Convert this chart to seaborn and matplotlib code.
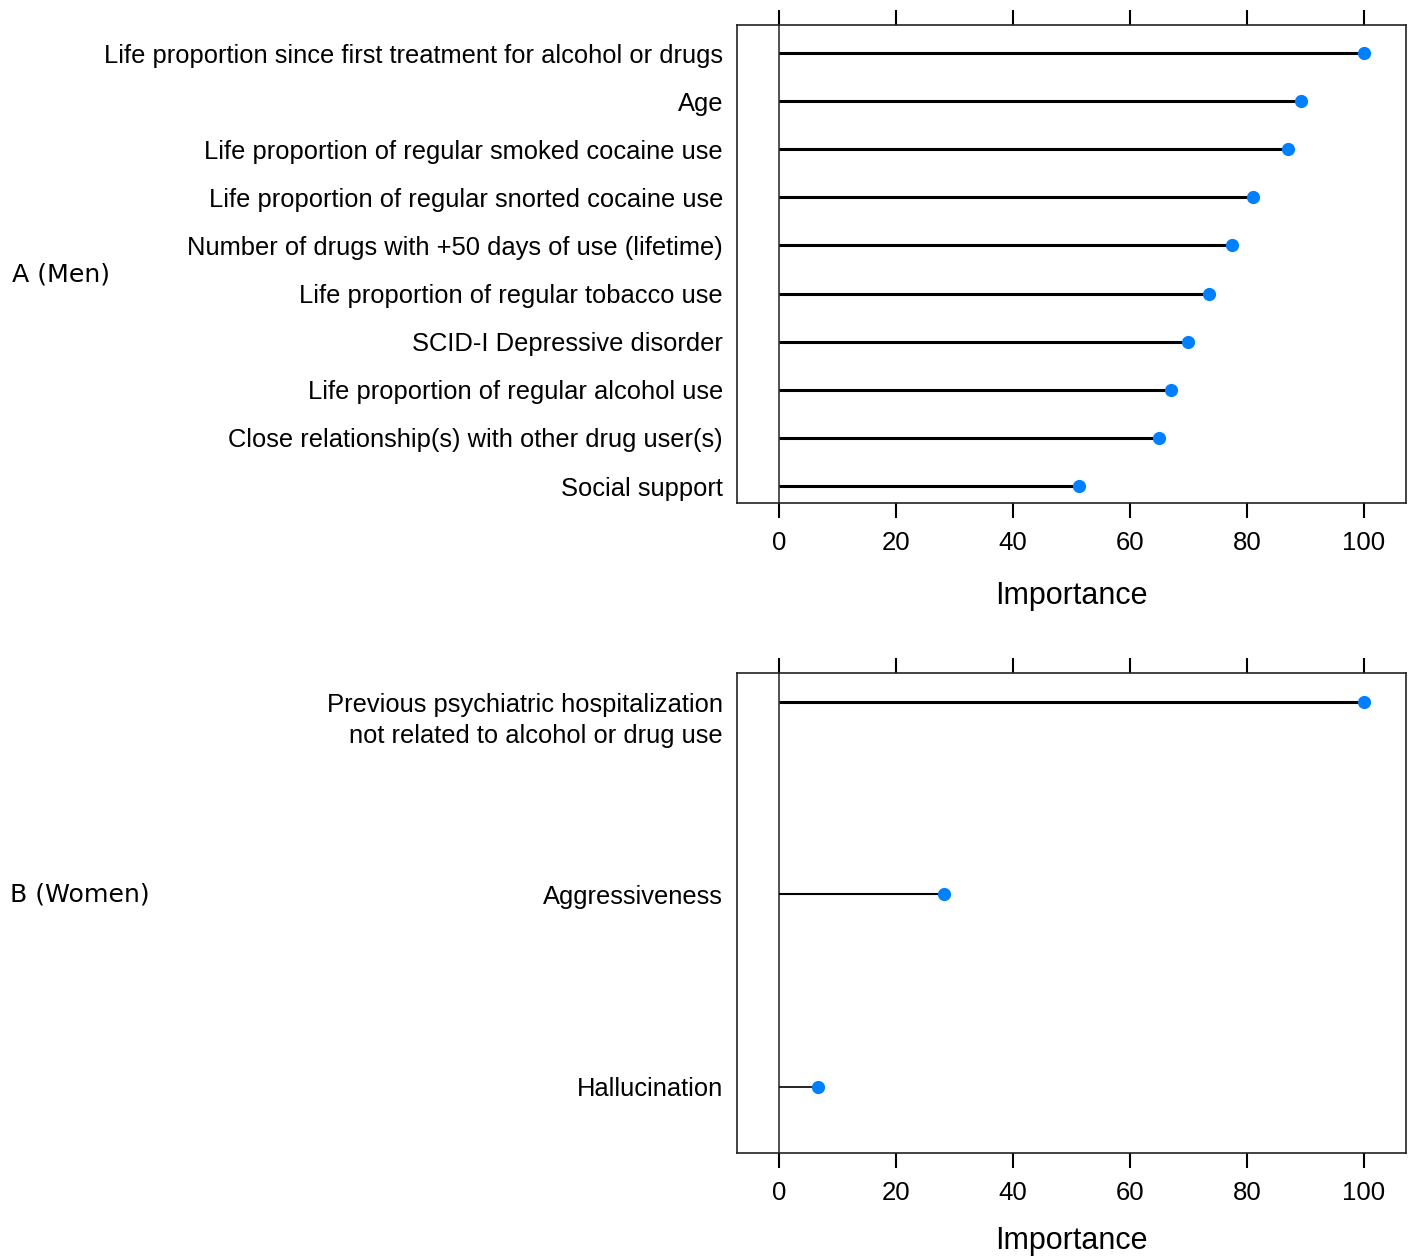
import matplotlib
matplotlib.use("Agg")
import matplotlib.pyplot as plt
import matplotlib.transforms as mtrans
import numpy as np
import pandas as pd
import seaborn as sns

# Panel A (men)
men_vars = [
    "Life proportion since first treatment for alcohol or drugs",
    "Age",
    "Life proportion of regular smoked cocaine use",
    "Life proportion of regular snorted cocaine use",
    "Number of drugs with +50 days of use (lifetime)",
    "Life proportion of regular tobacco use",
    "SCID-I Depressive disorder",
    "Life proportion of regular alcohol use",
    "Close relationship(s) with other drug user(s)",
    "Social support",
]
men_imp = [100.0, 89.2, 87.1, 81.1, 77.4, 73.6, 70.0, 67.1, 65.0, 51.3]

# Panel B (women)
women_vars = [
    "Previous psychiatric hospitalization\nnot related to alcohol or drug use",
    "Aggressiveness",
    "Hallucination",
]
women_imp = [100.0, 28.2, 6.6]

x_ticks = [0, 20, 40, 60, 80, 100]
DOT = "#0080ff"
LABEL_FONT = ["Liberation Sans", "DejaVu Sans"]
LBL_SIZE = 18.4

sns.set_theme(style="white")
plt.rcParams["font.family"] = LABEL_FONT

fig = plt.figure(figsize=(14.11, 12.58), dpi=100)
axA = fig.add_axes([0.5223, 0.5999, 0.4741, 0.3805])
axB = fig.add_axes([0.5223, 0.0835, 0.4741, 0.3813])


def lollipop(ax, names, vals, ylim, lws, xpad):
    df = pd.DataFrame({"var": names, "imp": vals})
    pos = np.arange(len(df))
    ax.axvline(0, color="#222222", lw=1.1, zorder=1)
    ax.hlines(pos, 0, df["imp"], color="black", lw=lws, zorder=2)
    sns.stripplot(data=df, x="imp", y="var", orient="h", jitter=False,
                  color=DOT, size=9.5, linewidth=0, ax=ax, zorder=3)
    ax.set_xlim(-7.2, 107.2)
    ax.set_ylim(*ylim)
    ax.set_xticks(x_ticks)
    ax.tick_params(axis="x", which="both", direction="out", length=11, width=1.5,
                   top=True, bottom=True, labeltop=False, labelsize=18.5, pad=9,
                   color="black", labelcolor="black")
    ax.tick_params(axis="y", length=0, labelsize=LBL_SIZE, pad=10, labelcolor="black")
    ax.set_ylabel("")
    ax.set_xlabel("Importance", fontsize=22, labelpad=xpad, color="black")
    for s in ax.spines.values():
        s.set_visible(True)
        s.set_color("#222222")
        s.set_linewidth(1.2)
    return pos


lollipop(axA, men_vars, men_imp, (9.36, -0.59), 2.2, 19)
posB = lollipop(axB, women_vars, women_imp, (2.343, -0.149), [2.2, 1.5, 1.2], 15)

# two-line label in panel B: first line sits on the tick
labs = [t.get_text() for t in axB.get_yticklabels()]
labs[0] = ""
axB.set_yticks(posB, labs)
off = mtrans.ScaledTranslation(-0.14, 0.085, fig.dpi_scale_trans)
tr = mtrans.blended_transform_factory(axB.transAxes, axB.transData) + off
axB.text(0, posB[0], women_vars[0], transform=tr, ha="right", va="top",
         fontsize=LBL_SIZE, linespacing=1.33, color="black")

fig.text(0.0085, 0.782, "A (Men)", fontsize=18.2, family="DejaVu Sans",
         va="center", ha="left", color="black")
fig.text(0.007, 0.2886, "B (Women)", fontsize=18.2, family="DejaVu Sans",
         va="center", ha="left", color="black")

fig.savefig("out.png", dpi=100, facecolor="white")
